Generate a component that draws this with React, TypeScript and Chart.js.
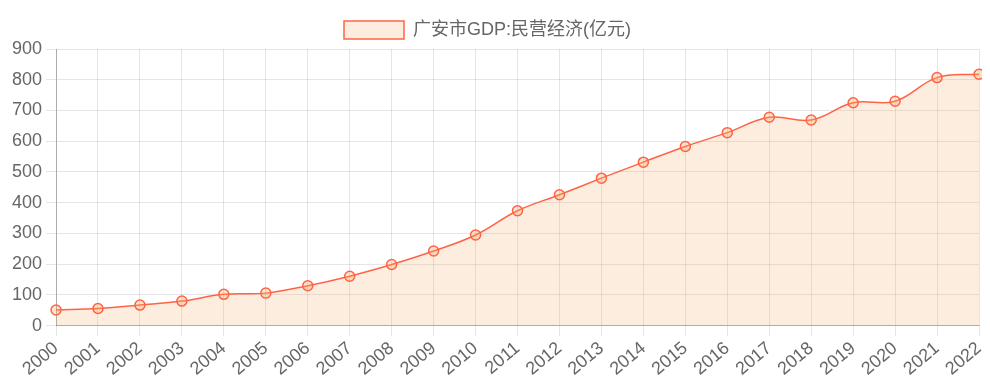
import React, { useEffect, useRef } from "react";
import { Chart, registerables } from "chart.js";

Chart.register(...registerables);

const years = ["2000","2001","2002","2003","2004","2005","2006","2007","2008","2009","2010","2011","2012","2013","2014","2015","2016","2017","2018","2019","2020","2021","2022"];
const privateEconomy = [51, 56, 67, 80, 102, 106, 130, 161, 199, 243, 295, 374, 426, 480, 532, 583, 628, 678, 669, 725, 730, 807, 818];
const seriesLabel = "广安市GDP:民营经济(亿元)";

export default function App() {
  const ref = useRef<HTMLCanvasElement>(null);
  useEffect(() => {
    if (!ref.current) return;
    Chart.defaults.font.family = "'Liberation Sans', Arial, 'Noto Sans CJK SC', sans-serif";
    Chart.defaults.font.size = 18;
    Chart.defaults.color = "#666";
    const baseGenerate = Chart.defaults.plugins.legend.labels.generateLabels;
    const chart = new Chart(ref.current, {
      type: "line",
      data: {
        labels: years,
        datasets: [
          {
            label: seriesLabel,
            data: privateEconomy,
            borderColor: "rgb(255,99,71)",
            backgroundColor: "rgba(244,164,96,0.2)",
            borderWidth: 1.5,
            fill: true,
            tension: 0.4,
            pointRadius: 5,
            pointBorderWidth: 1.5,
            pointBackgroundColor: "rgba(244,164,96,0.3)",
            pointBorderColor: "rgb(255,99,71)",
          },
        ],
      },
      options: {
        animation: false,
        responsive: true,
        maintainAspectRatio: false,
        layout: { autoPadding: false, padding: 0 },
        plugins: {
          legend: {
            labels: {
              boxWidth: 60,
              boxHeight: 18,
              padding: 7,
              color: "#666",
              font: { size: 18 },
              generateLabels: (c: any) =>
                baseGenerate(c).map((l: any) => ({ ...l, text: l.text + "   " })),
            },
          },
          tooltip: { enabled: false },
        },
        scales: {
          x: {
            afterFit: (scale: any) => {
              scale.paddingLeft = 0;
              scale.paddingRight = 3;
            },
            ticks: { color: "#666", font: { size: 18 }, maxRotation: 40, minRotation: 40, padding: 2 },
            grid: { color: "rgba(0,0,0,0.1)", tickLength: 10 },
            border: { color: "rgba(0,0,0,0.25)" },
          },
          y: {
            min: 0,
            max: 900,
            afterFit: (scale: any) => {
              scale.paddingTop = 41;
            },
            ticks: { stepSize: 100, color: "#666", font: { size: 18 }, padding: 4 },
            grid: { color: "rgba(0,0,0,0.1)", tickLength: 10 },
            border: { color: "rgba(0,0,0,0.25)" },
          },
        },
      },
    });
    return () => chart.destroy();
  }, []);
  return (
    <div style={{ width: "100%", height: 374 }}>
      <canvas ref={ref} />
    </div>
  );
}
